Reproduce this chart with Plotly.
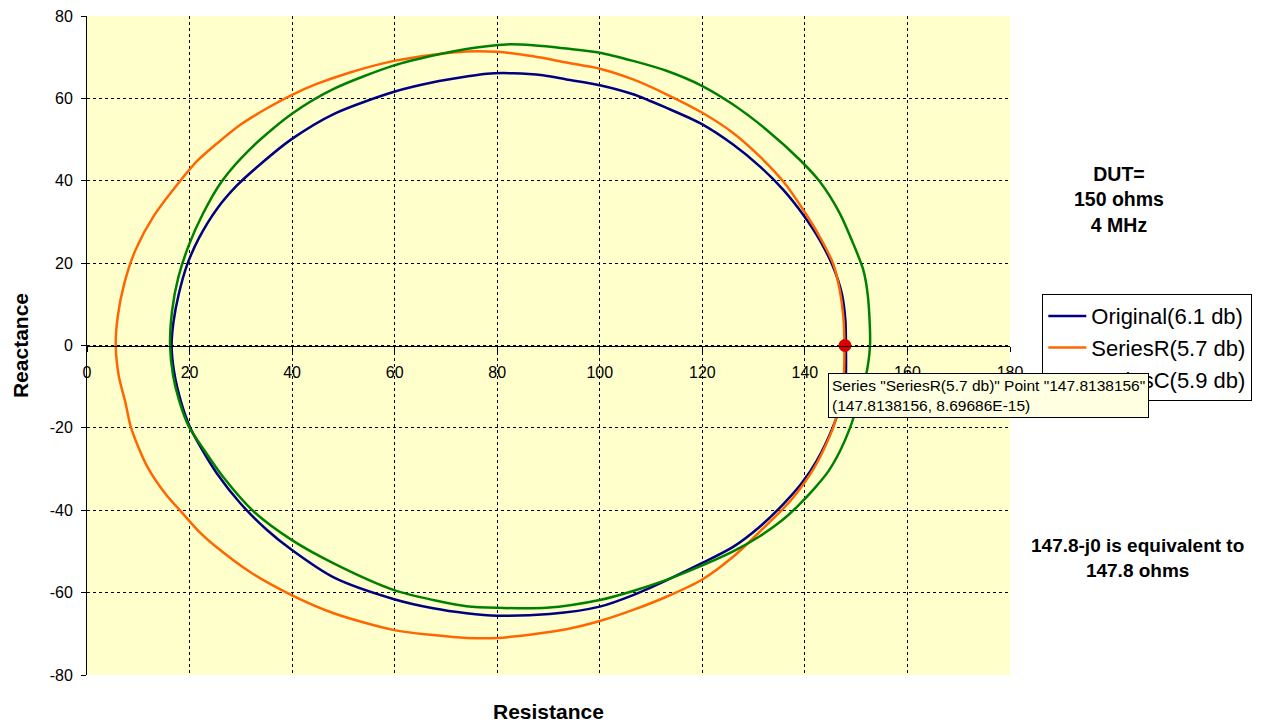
import plotly.graph_objects as go

# ---- data (Resistance, Reactance) ----
orig_r = [148.0, 147.9, 147.2, 145.5, 142.9, 139.7, 135.8, 131.2, 126.0, 120.0, 113.0, 106.5, 100.0, 93.5, 88.9, 83.1,
          78.0, 74.0, 67.5, 59.9, 48.1, 39.9, 33.8, 29.2, 25.3, 21.8, 19.5, 17.9, 16.9, 16.5,
          17.0, 18.3, 20.0, 22.3, 25.3, 29.9, 35.1, 39.9, 48.1, 59.9, 67.5, 74.0, 80.0, 90.2, 100.0, 106.5, 113.0,
          120.0, 126.0, 131.2, 135.8, 139.4, 142.3, 145.4, 146.8, 147.9, 148.0]
orig_x = [0.0, 6.1, 12.6, 19.1, 25.6, 31.7, 37.8, 43.5, 48.8, 53.7, 57.7, 61.0, 63.2, 64.6, 65.6, 66.1,
          66.0, 65.3, 63.9, 61.6, 56.2, 50.1, 44.0, 38.8, 33.1, 26.0, 19.5, 12.5, 6.0, 0.0,
          -6.5, -13.5, -19.6, -25.0, -31.0, -38.3, -44.8, -49.6, -56.3, -61.6, -63.8, -65.0, -65.6, -65.2, -63.4,
          -60.6, -57.0, -52.8, -48.9, -44.0, -38.5, -33.4, -28.0, -20.0, -15.0, -9.1, 0.0]

serr_r = [147.7, 147.5, 146.8, 145.5, 142.9, 139.7, 135.8, 131.2, 126.0, 120.0, 113.0, 106.5, 100.0, 93.5, 87.0,
          80.0, 74.0, 67.5, 59.9, 51.3, 44.8, 39.9, 35.1, 29.9, 25.3, 21.5, 18.2, 13.0, 9.5, 7.3, 6.0, 5.6,
          6.2, 7.5, 8.6, 11.7, 15.4, 18.4, 22.1, 25.3, 31.8, 39.9, 48.1, 59.9, 67.5, 74.0, 80.0, 87.0, 93.5, 100.0,
          106.5, 113.0, 120.0, 126.0, 131.2, 137.4, 142.0, 145.5, 146.6, 147.5, 147.7]
serr_x = [0.0, 6.9, 13.4, 19.9, 26.4, 32.9, 39.8, 45.9, 51.6, 56.5, 61.0, 64.6, 67.2, 68.7, 70.2,
          71.3, 71.4, 70.6, 69.1, 66.3, 63.5, 60.8, 57.6, 53.6, 49.0, 44.8, 40.0, 31.4, 23.3, 15.2, 7.1, 0.0,
          -7.4, -13.9, -20.0, -29.3, -36.2, -40.4, -45.5, -49.0, -55.0, -60.6, -65.0, -69.1, -70.3, -71.0, -71.0,
          -70.1, -68.9, -66.9, -64.2, -61.0, -56.8, -51.3, -45.2, -37.4, -29.3, -20.0, -15.0, -9.1, 0.0]

serc_r = [152.7, 152.3, 151.4, 149.4, 146.8, 142.9, 139.0, 132.5, 126.0, 120.0, 113.0, 106.5, 100.0, 93.5, 87.0,
          81.8, 74.0, 67.5, 59.9, 48.1, 39.9, 31.8, 26.3, 22.6, 19.9, 17.8, 16.6, 16.2,
          16.8, 18.0, 19.8, 22.8, 26.6, 32.5, 39.9, 48.1, 59.9, 67.5, 74.0, 80.0, 89.6, 100.0, 106.5, 113.0, 120.0,
          126.0, 131.2, 135.5, 138.6, 142.0, 144.6, 146.9, 148.8, 150.4, 151.9, 152.7]
serc_x = [0.0, 11.8, 18.3, 24.8, 32.1, 39.8, 45.1, 52.4, 58.5, 63.0, 66.7, 69.1, 71.1, 72.1, 72.9,
          73.1, 72.0, 70.4, 68.0, 62.3, 56.2, 47.7, 39.9, 32.0, 24.5, 16.5, 8.5, 0.0,
          -7.4, -13.5, -19.5, -25.3, -32.0, -40.3, -47.2, -52.9, -59.4, -61.8, -63.3, -63.7, -63.7, -61.8, -59.6,
          -56.9, -53.4, -50.0, -46.3, -42.5, -39.0, -34.5, -30.5, -25.5, -20.0, -13.9, -7.4, 0.0]

sel_r = [147.8138156]
sel_x = [8.69686e-15]

names = ["Original(6.1 db)", "SeriesR(5.7 db)", "SeriesC(5.9 db)"]
colors = ["#000080", "#FF6600", "#008000"]

x_tick_vals = [0, 20, 40, 60, 80, 100, 120, 140, 160, 180]
x_tick_text = ["0", "20", "40", "60", "80", "100", "120", "140", "160", "180"]
y_tick_vals = [-80, -60, -40, -20, 0, 20, 40, 60, 80]
y_tick_text = ["-80", "-60", "-40", "-20", "0", "20", "40", "60", "80"]

FONT = "Liberation Sans, Arial, sans-serif"

fig = go.Figure()
for r, x, n, c in [(orig_r, orig_x, names[0], colors[0]),
                   (serr_r, serr_x, names[1], colors[1]),
                   (serc_r, serc_x, names[2], colors[2])]:
    fig.add_trace(go.Scatter(x=r, y=x, mode="lines", name=n,
                             line=dict(color=c, width=2.5, shape="spline", smoothing=0.8)))

fig.add_trace(go.Scatter(x=sel_r, y=sel_x, mode="markers", showlegend=False,
                         marker=dict(color="#DD0000", size=13)))

fig.update_layout(
    width=1267, height=723,
    margin=dict(l=87, r=257, t=16, b=48, autoexpand=False),
    paper_bgcolor="white",
    plot_bgcolor="#FFFFCC",
    font=dict(family=FONT, color="black", size=16),
    showlegend=True,
    legend=dict(x=1.035, y=0.578, xanchor="left", yanchor="top",
                bgcolor="white", bordercolor="black", borderwidth=1, itemwidth=38,
                font=dict(size=22, family=FONT), tracegroupgap=0),
    xaxis=dict(range=[0, 180], tickmode="array", tickvals=x_tick_vals, ticktext=x_tick_text,
               showgrid=True, gridcolor="black",
               griddash="3px,3px", gridwidth=1, zeroline=False, automargin=False,
               showline=True, linecolor="black", linewidth=1,
               anchor="free", position=0.5, ticks="outside", ticklen=5, tickcolor="black",
               ticklabelstandoff=7, tickfont=dict(size=16)),
    yaxis=dict(range=[-80, 80], tickmode="array", tickvals=y_tick_vals, ticktext=y_tick_text,
               showgrid=True, gridcolor="black",
               griddash="3px,3px", gridwidth=1, zeroline=False, automargin=False,
               showline=True, linecolor="black", linewidth=1,
               ticks="outside", ticklen=5, tickcolor="black", ticklabelstandoff=5,
               tickfont=dict(size=16)),
    annotations=[
        dict(text="<b>Resistance</b>", xref="paper", yref="paper", x=0.5, y=-0.055,
             xanchor="center", yanchor="middle", showarrow=False, font=dict(size=21)),
        dict(text="<b>Reactance</b>", xref="paper", yref="paper", x=-0.072, y=0.5,
             xanchor="center", yanchor="middle", textangle=-90, showarrow=False, font=dict(size=21)),
        dict(text="<b>DUT=<br>150 ohms<br>4 MHz</b>", xref="paper", yref="paper", x=1.118, y=0.721,
             xanchor="center", yanchor="middle", showarrow=False, font=dict(size=19.5)),
        dict(text="<b>147.8-j0 is equivalent to<br>147.8 ohms</b>", xref="paper", yref="paper",
             x=1.138, y=0.178, xanchor="center", yanchor="middle", showarrow=False, font=dict(size=19)),
        dict(text='Series "SeriesR(5.7 db)" Point "147.8138156"<br>(147.8138156, 8.69686E-15)',
             xref="paper", yref="paper", x=0.803, y=0.458, xanchor="left", yanchor="top",
             align="left", showarrow=False, bgcolor="#FFFFE1", bordercolor="black", borderwidth=1,
             borderpad=3, font=dict(size=15.5)),
    ],
)

fig.write_html("out.html", config={"displayModeBar": False},
               post_script="document.body.style.margin='0';")
